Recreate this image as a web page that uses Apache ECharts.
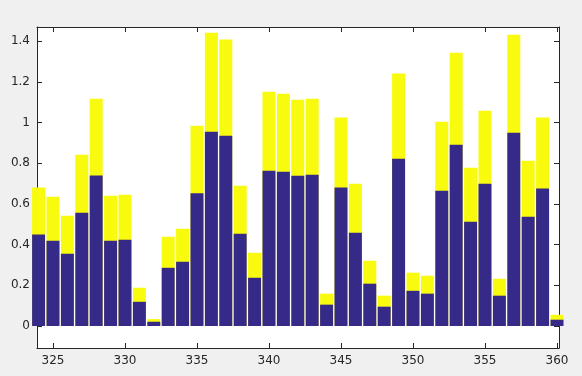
<!DOCTYPE html>
<html><head><meta charset="utf-8">
<script src="https://cdn.jsdelivr.net/npm/echarts@6/dist/echarts.min.js"></script>
<style>html,body{margin:0;padding:0;background:#f0f0f0;}#c{width:582px;height:376px;}</style>
</head><body><div id="c"></div>
<script>
var categories = [324,325,326,327,328,329,330,331,332,333,334,335,336,337,338,339,340,341,342,343,344,345,346,347,348,349,350,351,352,353,354,355,356,357,358,359,360];
var lowerValues = [0.449,0.419,0.355,0.557,0.740,0.419,0.424,0.119,0.021,0.286,0.316,0.652,0.955,0.935,0.453,0.237,0.763,0.758,0.738,0.743,0.105,0.680,0.458,0.208,0.095,0.822,0.173,0.159,0.665,0.891,0.512,0.699,0.149,0.950,0.537,0.675,0.031];
var totalValues = [0.680,0.635,0.542,0.842,1.117,0.640,0.645,0.188,0.034,0.439,0.478,0.984,1.441,1.407,0.689,0.360,1.151,1.141,1.112,1.117,0.159,1.024,0.699,0.321,0.149,1.240,0.262,0.247,1.004,1.343,0.778,1.058,0.232,1.431,0.812,1.024,0.055];
var xTicks = [325,330,335,340,345,350,355,360];
var yTicks = [0,0.2,0.4,0.6,0.8,1,1.2,1.4];

var chart = echarts.init(document.getElementById('c'));
var axisColor = '#262626';
var font = 'DejaVu Sans';
function xAxis(show, pos){
  return {type:'value', position:pos, min:323.89, max:360.14,
    axisLine:{show:true, onZero:false, lineStyle:{color:axisColor, width:1}},
    axisTick:{show:true, inside:true, length:5, customValues:xTicks, lineStyle:{color:axisColor}},
    axisLabel:{show:show, customValues:xTicks, color:axisColor, fontFamily:font, fontSize:12, margin:7},
    splitLine:{show:false}};
}
function yAxis(show, pos){
  return {type:'value', position:pos, min:-0.108, max:1.469,
    axisLine:{show:true, onZero:false, lineStyle:{color:axisColor, width:1}},
    axisTick:{show:true, inside:true, length:5, customValues:yTicks, lineStyle:{color:axisColor}},
    axisLabel:{show:show, customValues:yTicks, color:axisColor, fontFamily:font, fontSize:12, margin:7,
      formatter:function(v){return String(+v.toFixed(1));}},
    splitLine:{show:false}};
}
chart.setOption({
  animation:false,
  backgroundColor:'#f0f0f0',
  grid:{left:37, right:23, top:27, bottom:28, show:true, backgroundColor:'#ffffff', borderWidth:0},
  xAxis:[xAxis(true,'bottom'), xAxis(false,'top')],
  yAxis:[yAxis(true,'left'), yAxis(false,'right')],
  series:[
    {type:'bar', barWidth:13, barGap:'-100%', itemStyle:{color:'#f9fb0e'},
     data:categories.map(function(c,i){return [c, totalValues[i]];}), clip:true},
    {type:'bar', barWidth:13, barGap:'-100%', itemStyle:{color:'#352a87'},
     data:categories.map(function(c,i){return [c, lowerValues[i]];}), clip:true}
  ]
});
</script></body></html>
